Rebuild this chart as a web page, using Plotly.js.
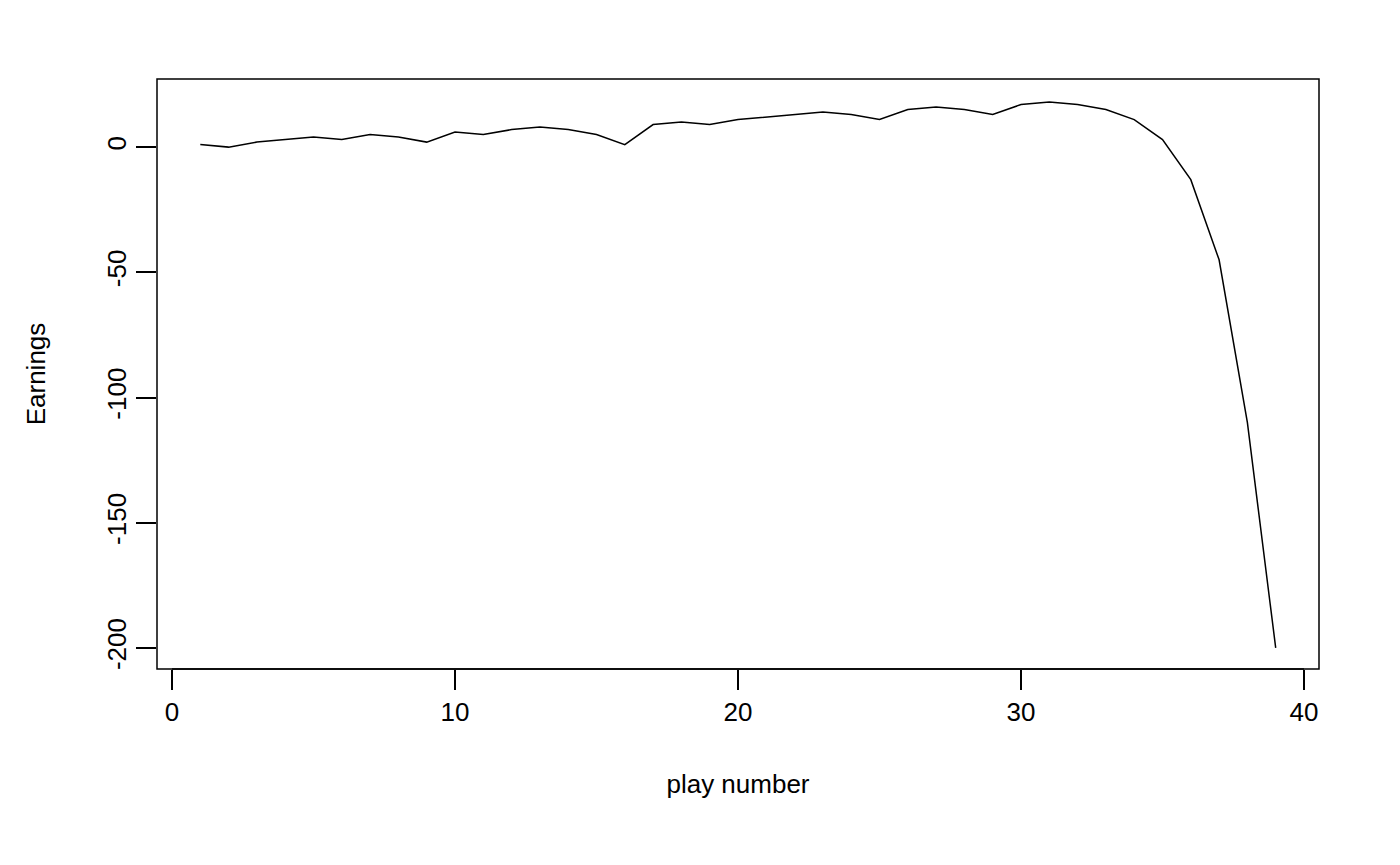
<!DOCTYPE html>
<html>
<head>
<script src="https://cdn.plot.ly/plotly-3.0.1.min.js"></script>
<style>body{margin:0;background:#fff}</style>
</head>
<body>
<div id="chart" style="width:1400px;height:865px"></div>
<script>
const playNumber = [1,2,3,4,5,6,7,8,9,10,11,12,13,14,15,16,17,18,19,20,21,22,23,24,25,26,27,28,29,30,31,32,33,34,35,36,37,38,39];
const earnings = [1,0,2,3,4,3,5,4,2,6,5,7,8,7,5,1,9,10,9,11,12,13,14,13,11,15,16,15,13,17,18,17,15,11,3,-13,-45,-110,-200];
const xTicks = [0,10,20,30,40];
const yTicks = [-200,-150,-100,-50,0];
const yTickText = ['-200','-150','-100','-50','0'];

const font = {family: 'Liberation Sans, Arial, sans-serif', size: 26, color: '#000'};

Plotly.newPlot('chart', [{
  x: playNumber, y: earnings, type: 'scatter', mode: 'lines',
  line: {color: '#000', width: 1.5}
}], {
  width: 1400, height: 865,
  margin: {l: 157, r: 81, t: 79, b: 196},
  paper_bgcolor: '#fff', plot_bgcolor: '#fff',
  font: font,
  showlegend: false,
  xaxis: {
    range: [-0.53, 40.53], tickvals: xTicks,
    ticks: 'outside', ticklen: 20, tickwidth: 1.5, tickcolor: '#000',
    tickfont: font,
    showgrid: false, zeroline: false, showline: false,
    title: {text: 'play number', font: font, standoff: 48}
  },
  yaxis: {
    range: [-208.4, 27.2], tickvals: yTicks, ticktext: yTickText,
    ticks: 'outside', ticklen: 20, tickwidth: 1.5, tickcolor: '#000',
    tickangle: -90, tickfont: font,
    showgrid: false, zeroline: false, showline: false,
    title: {text: 'Earnings', font: font, standoff: 48}
  },
  shapes: [
    {type: 'rect', xref: 'paper', yref: 'paper', x0: 0, x1: 1, y0: 0, y1: 1, line: {color: '#000', width: 1.5}},
    {type: 'line', xref: 'x', yref: 'paper', x0: 0, x1: 40, y0: 0, y1: 0, line: {color: '#000', width: 1.5}}
  ]
}, {displayModeBar: false});
</script>
</body>
</html>
